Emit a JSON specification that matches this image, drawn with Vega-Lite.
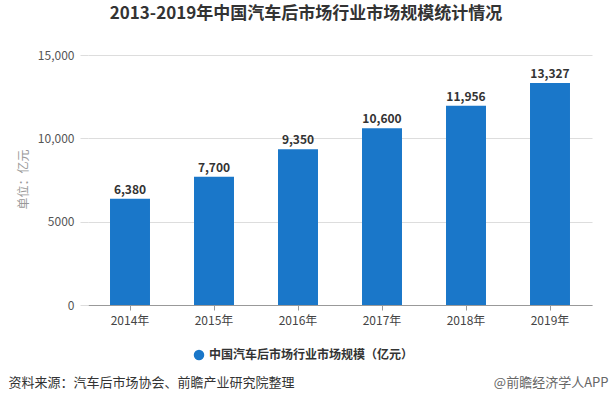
{
  "$schema": "https://vega.github.io/schema/vega-lite/v6.json",
  "autosize": "none",
  "width": 504,
  "height": 250,
  "padding": {"left": 88, "top": 55, "right": 19, "bottom": 100},
  "background": "white",
  "config": {
    "font": "Noto Sans CJK SC",
    "view": {"stroke": null}
  },
  "title": {
    "text": "2013-2019年中国汽车后市场行业市场规模统计情况",
    "fontSize": 17,
    "fontWeight": "bold",
    "color": "#333333",
    "anchor": "middle",
    "dx": -34,
    "offset": 26
  },
  "data": {
    "values": [
      {"year": "2014年", "value": 6380, "series": "中国汽车后市场行业市场规模（亿元）"},
      {"year": "2015年", "value": 7700, "series": "中国汽车后市场行业市场规模（亿元）"},
      {"year": "2016年", "value": 9350, "series": "中国汽车后市场行业市场规模（亿元）"},
      {"year": "2017年", "value": 10600, "series": "中国汽车后市场行业市场规模（亿元）"},
      {"year": "2018年", "value": 11956, "series": "中国汽车后市场行业市场规模（亿元）"},
      {"year": "2019年", "value": 13327, "series": "中国汽车后市场行业市场规模（亿元）"}
    ]
  },
  "encoding": {
    "x": {
      "field": "year",
      "type": "nominal",
      "sort": null,
      "scale": {"paddingInner": 0.524, "paddingOuter": 0.262},
      "axis": {
        "title": "资料来源：汽车后市场协会、前瞻产业研究院整理",
        "titleFontSize": 13,
        "titleFontWeight": "normal",
        "titleColor": "#333333",
        "titleX": -80,
        "titleY": 77,
        "titleAlign": "left",
        "titleAnchor": "start",
        "titleBaseline": "middle",
        "labelAngle": 0,
        "labelFontSize": 12,
        "labelColor": "#444444",
        "labelPadding": 5,
        "domainColor": "#999999",
        "tickColor": "#999999",
        "tickSize": 5,
        "grid": false
      }
    }
  },
  "layer": [
    {
      "mark": {"type": "bar", "color": "#1a77c9"},
      "encoding": {
        "y": {
          "field": "value",
          "type": "quantitative",
          "scale": {"domain": [0, 15000]},
          "axis": {
            "orient": "left",
            "values": [0, 5000, 10000, 15000],
            "labelExpr": "datum.value >= 10000 ? format(datum.value, ',') : format(datum.value, 'd')",
            "title": "单位：亿元",
            "titleFontSize": 12,
            "titleFontWeight": "normal",
            "titleColor": "#999999",
            "titleX": -65,
            "titleY": 124,
            "titleAngle": -90,
            "titleAlign": "center",
            "titleBaseline": "middle",
            "labelFontSize": 12,
            "labelColor": "#555555",
            "labelPadding": 6,
            "domain": false,
            "ticks": true,
            "tickSize": 8,
            "tickColor": "#dddddd",
            "gridColor": "#dddddd",
            "grid": true
          }
        },
        "color": {
          "field": "series",
          "type": "nominal",
          "scale": {"range": ["#1a77c9"]},
          "legend": {
            "title": null,
            "orient": "none",
            "legendX": 105,
            "legendY": 294,
            "symbolType": "circle",
            "symbolSize": 110,
            "labelFontSize": 12,
            "labelFontWeight": "bold",
            "labelColor": "#333333",
            "labelLimit": 400
          }
        }
      }
    },
    {
      "mark": {"type": "text", "dy": -9, "fontSize": 12, "fontWeight": "bold", "color": "#333333"},
      "encoding": {
        "y": {
          "field": "value",
          "type": "quantitative",
          "scale": {"domain": [0, 15000]},
          "axis": {
            "orient": "right",
            "labels": false,
            "ticks": false,
            "domain": false,
            "grid": false,
            "title": "@前瞻经济学人APP",
            "titleFontSize": 13,
            "titleFontWeight": "normal",
            "titleColor": "#666666",
            "titleAngle": 0,
            "titleX": 16,
            "titleY": 327,
            "titleAlign": "right",
            "titleBaseline": "middle"
          }
        },
        "text": {"field": "value", "type": "quantitative", "format": ","}
      }
    }
  ],
  "resolve": {"scale": {"y": "independent"}, "axis": {"y": "independent"}}
}
